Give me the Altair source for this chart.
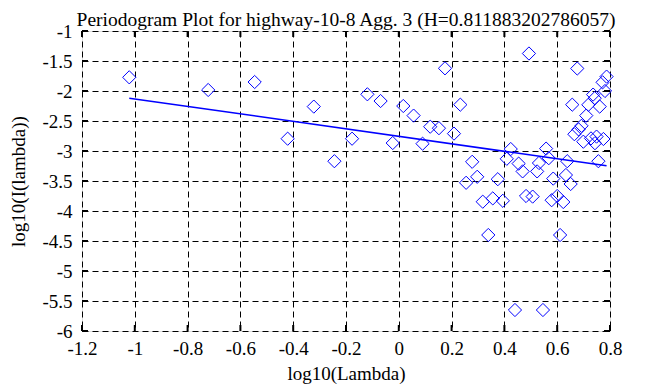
import altair as alt
import pandas as pd

# ---- data ----
log_lambda = [-1.021, -0.722, -0.546, -0.322, -0.421, -0.244, -0.177, -0.119, -0.069, -0.023,
              0.017, 0.056, 0.090, 0.119, 0.152, 0.175, 0.209, 0.233, 0.255, 0.278,
              0.297, 0.318, 0.339, 0.356, 0.375, 0.394, 0.409, 0.424, 0.440, 0.454,
              0.469, 0.482, 0.493, 0.507, 0.524, 0.531, 0.546, 0.558, 0.568, 0.585,
              0.579, 0.600, 0.611, 0.623, 0.633, 0.638, 0.651, 0.657, 0.665, 0.676,
              0.681, 0.692, 0.699, 0.710, 0.718, 0.728, 0.736, 0.743, 0.756, 0.761,
              0.775, 0.772, 0.787, 0.781, 0.742, 0.749]
log_I = [-1.772, -1.983, -1.850, -2.260, -2.795, -3.170, -2.795, -2.055, -2.167, -2.867,
         -2.250, -2.410, -2.878, -2.595, -2.620, -1.622, -2.710, -2.228, -3.530, -3.180,
         -3.430, -3.845, -4.400, -3.790, -3.470, -3.830, -3.130, -2.967, -5.650, -3.210,
         -3.340, -3.750, -1.375, -3.760, -3.340, -3.200, -5.650, -2.960, -3.120, -3.460,
         -3.820, -3.750, -4.400, -3.850, -3.400, -3.170, -3.550, -2.228, -2.720, -1.625,
         -2.640, -2.580, -2.845, -2.410, -2.230, -2.790, -2.060, -2.870, -3.170, -2.260,
         -2.800, -1.855, -1.760, -2.000, -2.120, -2.760]

# fitted line: slope = 1 - 2H
H = 0.811883202786057
slope = 1 - 2 * H
intercept = -2.756
fit_x = [min(log_lambda), max(log_lambda)]

x_ticks = [-1.2, -1, -0.8, -0.6, -0.4, -0.2, 0, 0.2, 0.4, 0.6, 0.8]
y_ticks = [-6, -5.5, -5, -4.5, -4, -3.5, -3, -2.5, -2, -1.5, -1]

title_text = "Periodogram Plot for highway-10-8 Agg. 3 (H=0.811883202786057)"
x_title = "log10(Lambda)"
y_title = "log10(I(lambda))"

W, H_PLOT = 528, 300
FONT = "Liberation Serif"
BLUE = "#0000ff"

pts = pd.DataFrame({"x": log_lambda, "y": log_I})
fit = pd.DataFrame({"x": fit_x, "y": [intercept + slope * v for v in fit_x]})
xt = pd.DataFrame({"x": x_ticks})
yt = pd.DataFrame({"y": y_ticks})

xscale = alt.Scale(domain=[-1.2, 0.8], nice=False, zero=False)
yscale = alt.Scale(domain=[-6, -1], nice=False, zero=False)

label_expr = "'' + datum.value"

xaxis = alt.Axis(values=x_ticks, labelExpr=label_expr, title=x_title, ticks=False, domain=False,
                 grid=True, gridColor="black", gridDash=[6, 4], gridOpacity=1, gridWidth=1,
                 labelFont=FONT, labelFontSize=19, labelColor="black", labelPadding=8,
                 titleFont=FONT, titleFontSize=19, titleFontWeight="normal", titleColor="black",
                 titleBaseline="middle", titleY=42, labelFlush=False)
yaxis = alt.Axis(values=y_ticks, labelExpr=label_expr, title=y_title, ticks=False, domain=False,
                 grid=True, gridColor="black", gridDash=[6, 4], gridOpacity=1, gridWidth=1,
                 labelFont=FONT, labelFontSize=19, labelColor="black", labelPadding=10,
                 titleFont=FONT, titleFontSize=19, titleFontWeight="normal", titleColor="black",
                 titleBaseline="middle", titleX=-64, labelFlush=False)

X = alt.X("x:Q", scale=xscale, axis=xaxis)
Y = alt.Y("y:Q", scale=yscale, axis=yaxis)

points = alt.Chart(pts).mark_point(shape="diamond", filled=False, color=BLUE, size=175,
                                   strokeWidth=1, opacity=1).encode(x=X, y=Y)

line = alt.Chart(fit).mark_line(color=BLUE, strokeWidth=1.5).encode(x=X, y=Y)

TL = 6
bottom_ticks = alt.Chart(xt).mark_rule(color="black", strokeWidth=2).encode(
    x=X, y=alt.value(H_PLOT - TL), y2=alt.value(H_PLOT))
top_ticks = alt.Chart(xt).mark_rule(color="black", strokeWidth=2).encode(
    x=X, y=alt.value(0), y2=alt.value(TL))
left_ticks = alt.Chart(yt).mark_rule(color="black", strokeWidth=2).encode(
    y=Y, x=alt.value(0), x2=alt.value(TL))
right_ticks = alt.Chart(yt).mark_rule(color="black", strokeWidth=2).encode(
    y=Y, x=alt.value(W - TL), x2=alt.value(W))

chart = alt.layer(points, bottom_ticks, top_ticks, left_ticks, right_ticks, line).properties(
    width=W, height=H_PLOT,
    title=alt.TitleParams(title_text, font=FONT, fontSize=19.5, fontWeight="normal", color="black",
                          anchor="middle", frame="group", offset=8, dy=16),
    padding={"left": 74, "top": 23, "right": 45, "bottom": 56},
    autosize=alt.AutoSizeParams(type="none"),
).configure_view(stroke="black", strokeWidth=2).configure(background="white").configure_axis(
    labelFont=FONT, titleFont=FONT)

chart.save("out.html", embed_options={"renderer": "svg", "actions": False})
